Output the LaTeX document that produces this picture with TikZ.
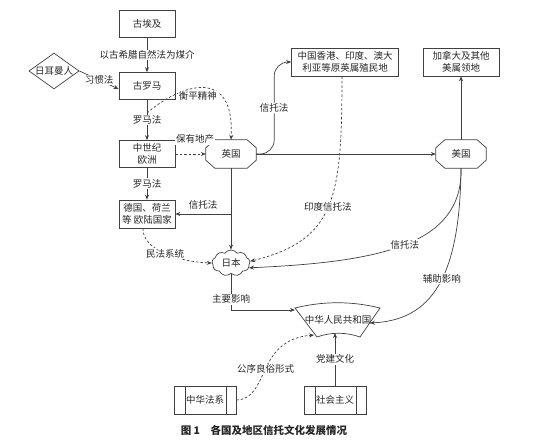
\documentclass[tikz,border=0pt]{standalone}
\usepackage{fontspec}
\setmainfont{Noto Sans CJK SC}
\usepackage{tikz}
\usetikzlibrary{arrows.meta,positioning,shapes.geometric,shapes.symbols,calc}

\begin{document}
\begin{tikzpicture}[
    x=1pt, y=-1pt,
    every node/.style={font=\fontsize{9.5}{12.5}\selectfont, align=center, text=black!85},
    box/.style={rectangle, draw=black!75, line width=0.7pt, minimum width=56pt, minimum height=27pt, inner sep=1pt},
    wide/.style={box, minimum width=107pt, minimum height=28pt},
    octo/.style={rectangle, minimum width=50pt, minimum height=28pt, inner sep=1pt,
        append after command={\pgfextra{\draw[black!75, line width=0.7pt]
            ([xshift=9pt]\tikzlastnode.north west) -- ([xshift=-9pt]\tikzlastnode.north east)
            -- ([yshift=-8pt]\tikzlastnode.north east) -- ([yshift=8pt]\tikzlastnode.south east)
            -- ([xshift=-9pt]\tikzlastnode.south east) -- ([xshift=9pt]\tikzlastnode.south west)
            -- ([yshift=8pt]\tikzlastnode.south west) -- ([yshift=-8pt]\tikzlastnode.north west) -- cycle;}}},
    tribe/.style={diamond, aspect=1.4, draw=black!75, line width=0.7pt, inner sep=0pt},
    cloudy/.style={cloud, cloud puffs=9, cloud puff arc=110, aspect=1.5, draw=black!75, line width=0.7pt, inner sep=1pt, minimum width=38pt, minimum height=26pt},
    subproc/.style={box, minimum width=62pt, minimum height=28pt,
        path picture={\draw[black!75, line width=0.7pt]
            ([xshift=11pt]path picture bounding box.north west) -- ([xshift=11pt]path picture bounding box.south west)
            ([xshift=-10pt]path picture bounding box.north east) -- ([xshift=-10pt]path picture bounding box.south east);}},
    lbl/.style={fill=white, inner sep=1pt},
    arr/.style={draw=black!75, line width=0.7pt, -{Stealth[length=5pt, width=4pt]}},
    dasharr/.style={arr, dash pattern=on 2.5pt off 2pt}
]
\useasboundingbox (0,0) rectangle (534,447);

\node[box] (egypt) at (147,24) {古埃及};
\node[box] (rome) at (147,86) {古罗马};
\node[tribe] (german) at (54,71) {日耳曼人};
\node[box] (medieval) at (147,154) {中世纪\\欧洲};
\node[box, minimum height=28pt] (states) at (147,214) {德国、荷兰\\等 欧陆国家};
\node[octo] (uk) at (231,154) {英国};
\node[octo] (us) at (461,154) {美国};
\node[wide] (hk) at (345,62) {中国香港、印度、澳大\\利亚等原英属殖民地};
\node[box, minimum width=76pt, minimum height=28pt] (canada) at (461,62) {加拿大及其他\\美属领地};
\node[cloudy] (japan) at (231,263) {日本};
\node (prc) at (338,320) {中华人民共和国};
\draw[draw=black!75, line width=0.7pt] ($(prc)+(-43,-12)$) .. controls ($(prc)+(-15,-19)$) and ($(prc)+(14,-19)$) .. ($(prc)+(42,-12)$)
    -- ($(prc)+(22,17)$) .. controls ($(prc)+(8,12)$) and ($(prc)+(-7,12)$) .. ($(prc)+(-21,17)$) -- cycle;
\coordinate (prc-tl) at ($(prc)+(-43,-10)$);
\coordinate (prc-b) at ($(prc)+(-3,13)$);
\coordinate (prc-r) at ($(prc)+(32,3)$);
\coordinate (prc-bl) at ($(prc)+(-24,15)$);
\node[subproc] (law) at (205,400) {中华法系};
\node[subproc] (social) at (335,400) {社会主义};
\node[font=\fontsize{10.5}{12}\selectfont\bfseries] (caption) at (264,430) {图 1\hspace{1em}各国及地区信托文化发展情况};

\draw[arr] (egypt) -- node[lbl]{以古希腊自然法为煤介} (rome);
\draw[arr] (german.east) -- node[lbl]{习惯法} ([yshift=-3pt]rome.west);
\draw[arr] (rome) -- node[lbl]{罗马法} (medieval);
\draw[dasharr] ($(rome.south)!0.33!(medieval.north)$) .. controls (175,88) and (235,62) .. node[lbl, pos=0.4, xshift=8pt, yshift=-7pt]{衡平精神} (uk.north);
\draw[dasharr] (medieval) -- node[lbl, above=9pt, pos=0.65]{保有地产} (uk);
\draw[arr] (medieval) -- node[lbl]{罗马法} (states);
\draw[arr] (uk) -- (japan);
\draw[arr] (uk.south |- states.east) -- node[lbl, above=3pt]{信托法} (states.east);
\draw[dasharr] ([xshift=-4pt]states.south) .. controls (142,250) and (180,262) .. node[lbl, pos=0.5]{民法系统} (japan.west);
\draw[dasharr] ([xshift=-3pt]hk.south) .. controls (342,200) and (335,240) .. node[lbl, pos=0.5]{印度信托法} (japan.5);
\draw[arr, rounded corners=14pt] (uk.east) -- ++(18,0) |- node[lbl, pos=0.25]{信托法} (hk.west);
\draw[arr] (uk) -- (us);
\draw[arr] (us) -- (canada);
\draw[arr] (us.south) .. controls (463,245) and (380,262) .. node[lbl, pos=0.5]{信托法} (japan.-15);
\draw[arr] (us.south) .. controls (460,280) and (430,320) .. node[lbl, pos=0.45]{辅助影响} (prc-r);
\draw[arr] (japan.south) |- node[lbl, pos=0.35]{主要影响} (prc-tl);
\draw[arr] (social.north) -- node[lbl]{党建文化} (prc-b);
\draw[dasharr] (law.east) .. controls (270,399) and (255,340) .. node[lbl, pos=0.5]{公序良俗形式} (prc-bl);
\end{tikzpicture}
\end{document}
